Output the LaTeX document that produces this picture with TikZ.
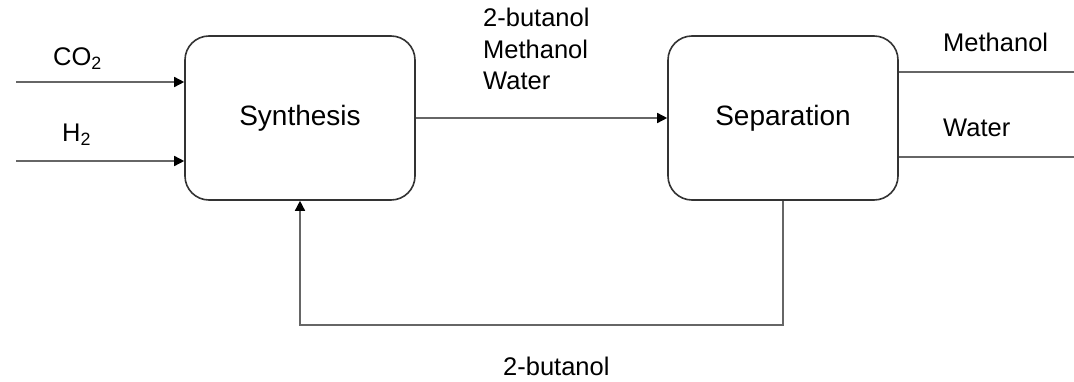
\documentclass[tikz,border=0pt]{standalone}
\usepackage{fontspec}
\setmainfont{Liberation Sans}
\usetikzlibrary{arrows.meta}
\begin{document}
\begin{tikzpicture}[x=1pt,y=-1pt,
  proc/.style={draw=black!80,line width=1.6pt,rounded corners=24pt,minimum width=230pt,minimum height=164pt,inner sep=0pt,font=\fontsize{28}{32}\selectfont},
  flow/.style={draw=black!60,line width=1.5pt},
  arr/.style={flow,-{Triangle[length=10pt,width=10pt,color=black,fill=black]}},
  lbl/.style={anchor=base west,inner sep=0pt,font=\fontsize{25.5}{30}\selectfont}]
\useasboundingbox (0,0) rectangle (1074,382);
\node[proc] (syn) at (300,118) {Synthesis};
\node[proc] (sep) at (783,118) {Separation};
\coordinate (co2in) at (16,82);
\coordinate (h2in) at (16,161);
\coordinate (mout) at (1074,72);
\coordinate (wout) at (1074,157);
\draw[arr] (co2in) -- (co2in -| syn.west);
\draw[arr] (h2in) -- (h2in -| syn.west);
\draw[arr] (syn.east) -- (sep.west);
\draw[flow] (mout -| sep.east) -- (mout);
\draw[flow] (wout -| sep.east) -- (wout);
\draw[arr] (sep.south) -- ++(0,124) -| (syn.south);
\node[lbl] (lco2) at (53,66) {CO\textsubscript{2}};
\node[lbl] (lh2) at (62,142) {H\textsubscript{2}};
\node[lbl] (lm1) at (483,27) {2-butanol};
\node[lbl] (lm2) at (483,59) {Methanol};
\node[lbl] (lm3) at (483,90) {Water};
\node[lbl] (lmo) at (943,52) {Methanol};
\node[lbl] (lwo) at (943,137) {Water};
\node[lbl] (lrec) at (503,375) {2-butanol};
\end{tikzpicture}
\end{document}
